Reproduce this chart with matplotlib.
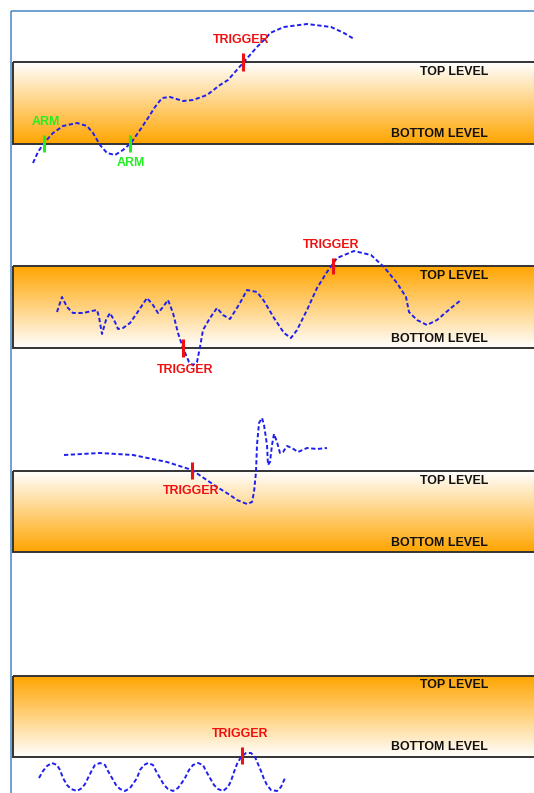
import matplotlib
matplotlib.use("Agg")
import matplotlib.pyplot as plt
import numpy as np
from matplotlib.colors import LinearSegmentedColormap
from matplotlib.patches import Rectangle

# ---------------- data (pixel coordinates) ----------------
# Panel 1 signal
sig1_x = [33, 38, 44, 53, 63, 77, 87, 93, 100, 107, 115, 123, 131, 140, 148, 155, 162, 170,
          183, 193, 207, 220, 228, 243, 257, 267, 270, 284, 307, 331, 344, 354]
sig1_y = [163, 152, 143, 133, 126, 123, 126, 133, 145, 153, 155, 150, 143, 130, 118, 107, 98, 97,
          101, 100, 95, 85, 80, 63, 47, 37, 33, 27, 24, 27, 33, 39]

# Panel 2 signal
sig2_x = [57, 62, 67, 73, 83, 92, 97, 99, 102, 106, 110, 115, 118, 123, 130, 137, 147, 153, 158,
          163, 168, 173, 178, 183, 189, 193, 197, 200, 203, 210, 217, 223, 230, 240, 247, 257, 264,
          274, 284, 291, 297, 307, 317, 327, 337, 354, 371, 384, 397, 406, 409, 417, 427, 437, 451, 461]
sig2_y = [312, 297, 307, 313, 313, 311, 310, 317, 334, 320, 313, 322, 329, 328, 323, 313, 298, 305, 313,
          307, 300, 313, 333, 348, 362, 365, 362, 347, 330, 318, 308, 315, 319, 303, 290, 292, 301,
          318, 333, 338, 330, 310, 288, 272, 258, 251, 255, 267, 283, 297, 312, 320, 325, 320, 308, 300]

# Panel 3 signal
sig3_x = [64, 100, 133, 167, 192, 217, 230, 237, 247, 252, 254, 256, 257, 259, 262, 264, 267, 268,
          270, 272, 274, 277, 280, 283, 287, 292, 298, 307, 317, 327]
sig3_y = [455, 453, 455, 462, 470, 487, 495, 500, 504, 502, 492, 472, 445, 423, 418, 425, 445, 465,
          462, 445, 434, 442, 453, 452, 446, 448, 452, 448, 449, 448]

# Panel 4 signal
sig4_x = [39, 43, 47, 52, 57, 60, 63, 67, 71, 77, 82, 85, 88, 92, 95, 100, 105, 108, 112, 116, 120,
          125, 130, 133, 137, 140, 144, 148, 153, 156, 160, 164, 168, 173, 178, 181, 185, 189, 193,
          198, 203, 206, 210, 214, 218, 223, 228, 231, 234, 237, 241, 246, 251, 255, 258, 261, 264,
          267, 271, 277, 281, 285]
sig4_y = [778, 771, 766, 763, 765, 770, 778, 785, 789, 791, 788, 784, 778, 770, 765, 763, 765, 771,
          778, 785, 789, 791, 788, 784, 778, 770, 765, 763, 765, 771, 778, 785, 789, 791, 788, 784,
          778, 770, 765, 763, 765, 771, 778, 785, 789, 791, 787, 781, 772, 764, 757, 753, 753, 757,
          764, 771, 779, 785, 790, 791, 787, 778]

# Markers: (x, y_top, y_bottom)
arm_marks = [(44, 135, 152), (130, 135, 152)]
trig_marks = [(243, 53, 71), (333, 258, 274), (183, 339, 357), (192, 462, 479), (242, 747, 764)]

# Labels: (text, x, y)
arm_labels = [("ARM", 45.5, 122), ("ARM", 130.5, 162.5)]
trig_labels = [("TRIGGER", 241.5, 40), ("TRIGGER", 331.5, 245), ("TRIGGER", 185, 370),
               ("TRIGGER", 191.5, 491), ("TRIGGER", 240.5, 734)]

# ---------------- layout ----------------
W, H = 534, 793
bands = [  # (top, bottom, orange_at_bottom)
    (62, 144, True),
    (266, 348, False),
    (471, 552, True),
    (676, 757, False),
]
level_text_y = [(72, 134), (276, 338.5), (481, 543), (685, 747.5)]

fig = plt.figure(figsize=(W / 100, H / 100), dpi=100)
ax = fig.add_axes([0, 0, 1, 1])
ax.set_xlim(0, W)
ax.set_ylim(H, 0)
ax.axis("off")

cmap = LinearSegmentedColormap.from_list("wo", ["#ffffff", "#ffa500"])
grad = np.linspace(0, 1, 256).reshape(-1, 1)

for (top, bot, orange_bottom) in bands:
    g = grad if orange_bottom else grad[::-1]
    ax.imshow(g, cmap=cmap, vmin=0, vmax=1, aspect="auto", origin="upper",
              extent=(13, W + 5, bot, top), interpolation="bilinear", zorder=1)
    ax.add_patch(Rectangle((13, top), W + 10, bot - top, fill=False,
                           edgecolor="#333333", lw=1.4, zorder=3))

# frame lines
ax.plot([11, W], [10.5, 10.5], color="#4a86c0", lw=1.1, zorder=5, solid_capstyle="butt")
ax.plot([11, 11], [10.5, H], color="#4a86c0", lw=1.1, zorder=5, solid_capstyle="butt")

font = ["Liberation Sans", "DejaVu Sans"]
fs = 8.9
for (yt, yb) in level_text_y:
    ax.text(488, yt, "TOP LEVEL", ha="right", va="center", fontsize=fs,
            fontweight="bold", family=font, color="#111111", zorder=6)
    ax.text(488, yb, "BOTTOM LEVEL", ha="right", va="center", fontsize=fs,
            fontweight="bold", family=font, color="#111111", zorder=6)

sig_style = dict(color="#1f1fef", lw=1.4, ls=(0, (2.2, 1.3)), zorder=4)
for sx, sy in [(sig1_x, sig1_y), (sig2_x, sig2_y), (sig3_x, sig3_y), (sig4_x, sig4_y)]:
    ax.plot(sx, sy, solid_joinstyle="round", **sig_style)

green = "#22ee22"
red = "#ee1111"
for x, y0, y1 in arm_marks:
    ax.plot([x, x], [y0, y1], color=green, lw=2.2, zorder=5, solid_capstyle="butt")
for x, y0, y1 in trig_marks:
    ax.plot([x, x], [y0, y1], color=red, lw=2.2, zorder=5, solid_capstyle="butt")
for t, x, y in arm_labels:
    ax.text(x, y, t, ha="center", va="center", fontsize=fs, fontweight="bold",
            family=font, color=green, zorder=6)
for t, x, y in trig_labels:
    ax.text(x, y, t, ha="center", va="center", fontsize=fs, fontweight="bold",
            family=font, color=red, zorder=6)

fig.savefig("out.png", dpi=100)
